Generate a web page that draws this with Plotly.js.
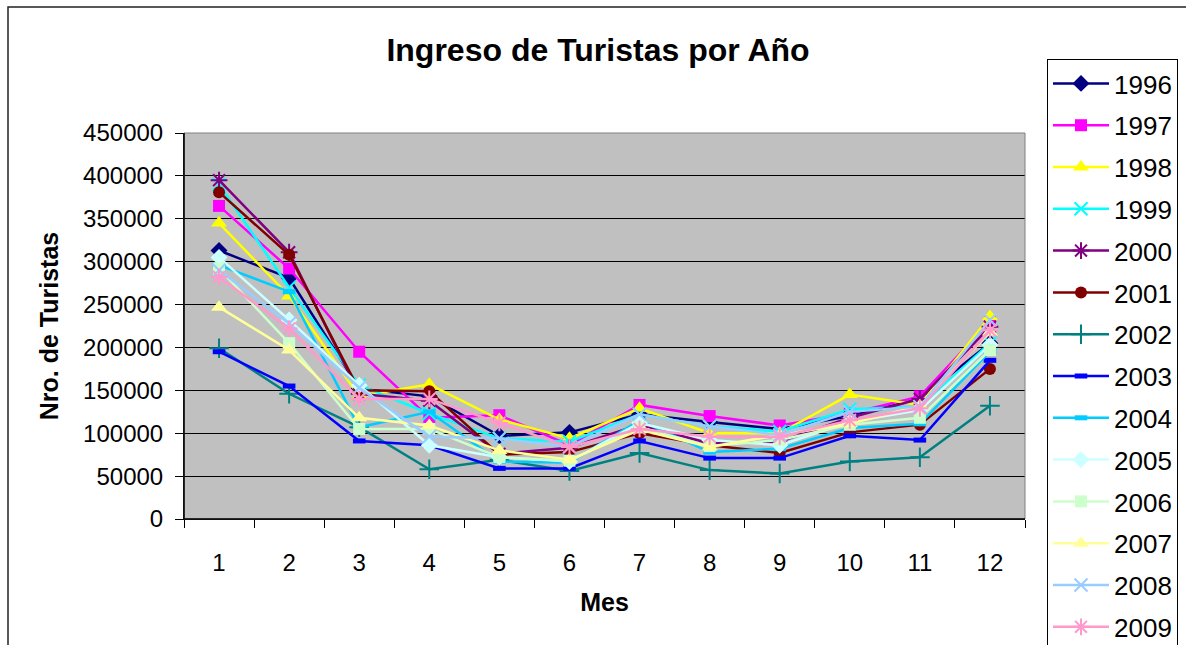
<!DOCTYPE html>
<html>
<head>
<meta charset="utf-8">
<script src="https://cdn.plot.ly/plotly-3.0.1.min.js"></script>
<style>
html,body{margin:0;padding:0;overflow:hidden;background:#fff;}
#chart{width:1186px;height:680px;}
</style>
</head>
<body>
<div id="chart"></div>
<script>
const months = ['1','2','3','4','5','6','7','8','9','10','11','12'];
const years = ['1996','1997','1998','1999','2000','2001','2002','2003','2004','2005','2006','2007','2008','2009'];

const v1996 = [313000, 281000, 152000, 143000, 97000, 101000, 122000, 113000, 105000, 120000, 140000, 205000];
const v1997 = [365000, 292000, 195000, 118000, 121000, 86000, 133000, 120000, 109000, 123000, 143000, 230000];
const v1998 = [345000, 260000, 143000, 157000, 116000, 94000, 129000, 100000, 100000, 145000, 133000, 236000];
const v1999 = [390000, 270000, 156000, 123000, 94000, 90000, 122000, 108000, 102000, 128000, 131000, 205000];
const v2000 = [395000, 311000, 146000, 138000, 76000, 83000, 110000, 88000, 90000, 118000, 140000, 224000];
const v2001 = [381000, 308000, 150000, 149000, 75000, 78000, 100000, 86000, 77000, 101000, 110000, 175000];
const v2002 = [199000, 146000, 107000, 58000, 69000, 56000, 77000, 57000, 53000, 67000, 72000, 132000];
const v2003 = [195000, 155000, 91000, 86000, 59000, 59000, 91000, 71000, 71000, 97000, 92000, 185000];
const v2004 = [296000, 265000, 107000, 125000, 67000, 66000, 115000, 78000, 82000, 106000, 111000, 195000];
const v2005 = [305000, 232000, 156000, 86000, 72000, 67000, 112000, 92000, 86000, 113000, 127000, 203000];
const v2006 = [292000, 205000, 105000, 105000, 72000, 68000, 107000, 85000, 92000, 110000, 118000, 197000];
const v2007 = [247000, 197000, 118000, 109000, 80000, 69000, 104000, 84000, 98000, 111000, 132000, 218000];
const v2008 = [290000, 228000, 153000, 96000, 94000, 84000, 122000, 108000, 98000, 125000, 131000, 232000];
const v2009 = [282000, 222000, 140000, 140000, 112000, 84000, 105000, 96000, 96000, 115000, 129000, 220000];

const values = [v1996, v1997, v1998, v1999, v2000, v2001, v2002, v2003, v2004, v2005, v2006, v2007, v2008, v2009];

const colors = ['#000080','#FF00FF','#FFFF00','#00FFFF','#800080','#800000','#008080','#0000FF','#00CCFF','#CCFFFF','#CCFFCC','#FFFF99','#99CCFF','#FF99CC'];
const symbols = ['diamond','square','triangle-up','x-thin-open','asterisk-open','circle','cross-thin-open','line-ew-open','line-ew-open','diamond','square','triangle-up','x-thin-open','asterisk-open'];
const sizes = [13,12,14,13,14,12,14,9,9,13,12,14,13,14];

const traces = years.map((y, i) => {
  const open = symbols[i].endsWith('open');
  return {
    type: 'scatter',
    mode: 'lines+markers',
    name: y,
    legendgroup: y,
    x: months,
    y: values[i],
    line: {color: colors[i], width: 2.5},
    marker: {
      symbol: symbols[i],
      size: sizes[i],
      color: colors[i],
      line: {color: colors[i], width: open ? (symbols[i].startsWith('line') ? 5 : 2) : 0}
    }
  };
});

const W = 1186, H = 680;
const L = 184, R = 1025, T = 133, B = 519;
const pw = R - L, ph = B - T;
const px = v => (v - L) / pw;
const py = v => (B - v) / ph;

const layout = {
  width: W, height: H,
  margin: {l: L, r: W - R, t: T, b: H - B, autoexpand: false},
  paper_bgcolor: '#FFFFFF',
  plot_bgcolor: '#C0C0C0',
  font: {family: 'Liberation Sans, Arial, sans-serif', color: '#000'},
  showlegend: true,
  title: {
    text: '<b>Ingreso de Turistas por Año</b>',
    font: {size: 32, color: '#000'},
    xref: 'container', yref: 'container',
    x: 598 / W, y: 1 - 50 / H, xanchor: 'center', yanchor: 'middle'
  },
  xaxis: {
    type: 'category',
    range: [-0.5, 11.5],
    tickson: 'boundaries',
    ticks: 'outside', ticklen: 8, tickcolor: '#000', tickwidth: 1,
    showgrid: false,
    showline: true, linecolor: '#000', linewidth: 1,
    tickfont: {size: 24},
    ticklabelstandoff: 22,
    title: {text: '<b>Mes</b>', font: {size: 25}, standoff: 18},
    fixedrange: true
  },
  yaxis: {
    range: [0, 450000],
    tickvals: [0,50000,100000,150000,200000,250000,300000,350000,400000,450000],
    ticktext: ['0','50000','100000','150000','200000','250000','300000','350000','400000','450000'],
    ticks: 'outside', ticklen: 8, tickcolor: '#000', tickwidth: 1,
    showgrid: true, gridcolor: '#000', gridwidth: 1,
    zeroline: false,
    showline: true, linecolor: '#000', linewidth: 1,
    tickfont: {size: 24},
    ticklabelstandoff: 7,
    title: {text: '<b>Nro. de Turistas</b>', font: {size: 25}, standoff: 17},
    fixedrange: true
  },
  legend: {
    x: px(1047), y: py(59), xanchor: 'left', yanchor: 'top',
    bordercolor: '#000', borderwidth: 1, bgcolor: '#FFFFFF',
    font: {size: 26},
    tracegroupgap: 5,
    itemwidth: 56,
    traceorder: 'grouped',
    maxheight: 2000
  },
  shapes: [
    {type: 'rect', xref: 'paper', yref: 'paper', x0: 0, x1: 1, y0: 0, y1: 1,
     line: {color: '#808080', width: 1}, fillcolor: 'rgba(0,0,0,0)', layer: 'above'},
    {type: 'line', xref: 'paper', yref: 'paper', x0: 0, x1: 0, y0: 0, y1: 1,
     line: {color: '#000', width: 1.5}, layer: 'above'},
    {type: 'line', xref: 'paper', yref: 'paper', x0: 0, x1: 1, y0: 0, y1: 0,
     line: {color: '#000', width: 1.5}, layer: 'above'},
    {type: 'rect', xref: 'paper', yref: 'paper', x0: px(8), x1: px(1300), y0: py(7), y1: py(720),
     line: {color: '#222', width: 1.5}, fillcolor: 'rgba(0,0,0,0)', layer: 'above'}
  ]
};

Plotly.newPlot('chart', traces, layout, {displayModeBar: false, staticPlot: true});
</script>
</body>
</html>
